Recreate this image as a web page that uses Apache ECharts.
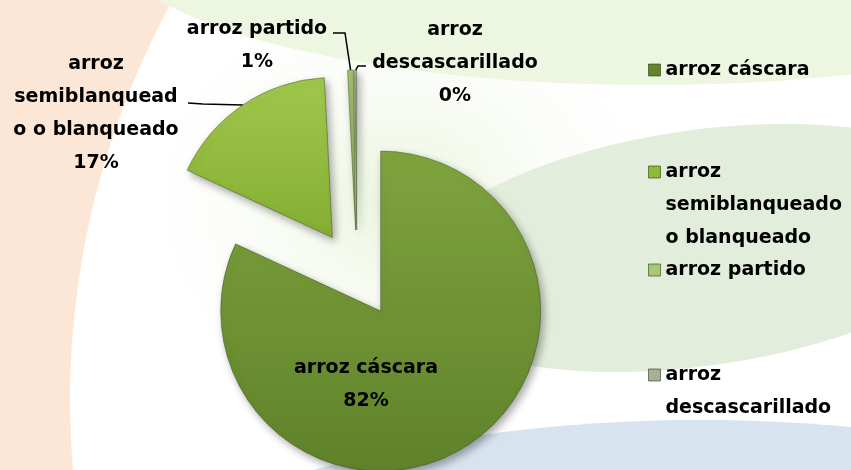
<!DOCTYPE html>
<html>
<head>
<meta charset="utf-8">
<script src="https://cdn.jsdelivr.net/npm/echarts@6/dist/echarts.min.js"></script>
<style>
  html, body { margin: 0; padding: 0; }
  .wrap { position: relative; width: 851px; height: 470px; overflow: hidden; }
  .wrap svg, #chart { position: absolute; left: 0; top: 0; }
  #chart { width: 851px; height: 470px; }
</style>
</head>
<body>
<div class="wrap">
  <!-- fondo decorativo de la diapositiva -->
  <svg width="851" height="470">
    <defs>
      <radialGradient id="soft">
        <stop offset="0" stop-color="#e8f3da" stop-opacity="0.95"/>
        <stop offset="1" stop-color="#ffffff" stop-opacity="0"/>
      </radialGradient>
    </defs>
    <rect width="851" height="470" fill="#fce7d7"/>
    <circle cx="900" cy="400" r="830" fill="#ffffff"/>
    <ellipse cx="400" cy="200" rx="280" ry="240" fill="url(#soft)"/>
    <ellipse cx="650" cy="-60" rx="540" ry="145" fill="#ecf6e0"/>
    <ellipse cx="700" cy="248" rx="300" ry="118" fill="#e3eddb" transform="rotate(-8 700 248)"/>
    <ellipse cx="700" cy="720" rx="700" ry="300" fill="#d7e3ee"/>
  </svg>
  <div id="chart"></div>
</div>
<script>
// datos
const categories = ['arroz cáscara', 'arroz semiblanqueado o blanqueado', 'arroz partido', 'arroz descascarillado']
const values = [81.9, 17.3, 0.6, 0.2]
// textos tal como aparecen partidos en el gráfico
const labelTexts = ['arroz cáscara', 'arroz\nsemiblanquead\no o blanqueado', 'arroz partido', 'arroz\ndescascarillado']
const legendTexts = ['arroz cáscara', 'arroz\nsemiblanqueado\no blanqueado', 'arroz partido', 'arroz\ndescascarillado']

const FONT = 'DejaVu Sans'
const LH = 33
const CENTER = [357, 274]
const RADIUS = 160
const EXPLODE = 44

// estilos de cada porción
const sliceColors = [
  ['#7fa43e', '#5f822a'],
  ['#a0c84c', '#84ae32'],
  ['#a4c46e', '#87a455'],
  ['#b2b8a0', '#8f977c']
]
const legendColors = ['#62842c', '#8fba38', '#a8c878', '#a9ae98']

// donde van las etiquetas (centro del bloque) y los quiebres de las líneas guía
const labelPos = [[366, 385], [96, 114], [257, 46], [455, 63]]
const leaderPts = [null, [[203, 104], [188, 103]], [[345, 33], [333, 33]], [[358, 66], [366, 66]]]
const legendFirstLine = [70, 172, 270, 375]

const chart = echarts.init(document.getElementById('chart'))

const textStyle = {
  color: '#000',
  fontFamily: FONT,
  fontWeight: 'bold',
  fontSize: 19,
  lineHeight: LH
}

// una leyenda por entrada para repetir el reparto vertical del original
const legends = categories.map((name, i) => {
  const n = legendTexts[i].split('\n').length
  return {
    data: [{ name: name, itemStyle: { color: legendColors[i], borderColor: 'rgba(40,60,20,0.6)', borderWidth: 1 } }],
    orient: 'vertical',
    left: 648,
    top: legendFirstLine[i] - (2 * n - 1) * LH / 2,
    padding: 0,
    itemWidth: 12,
    itemHeight: 12,
    icon: 'rect',
    selectedMode: false,
    // líneas vacías delante para que el icono quede a la altura de la primera línea
    formatter: () => '\n'.repeat(n - 1) + legendTexts[i],
    textStyle: textStyle
  }
})

const pieBase = {
  type: 'pie',
  center: CENTER,
  radius: RADIUS,
  startAngle: 90,
  clockwise: true,
  avoidLabelOverlap: false,
  percentPrecision: 0,
  emphasis: { disabled: true },
  animation: false
}

const option = {
  animation: false,
  legend: legends,
  series: [
    // porciones separadas
    Object.assign({}, pieBase, {
      selectedMode: 'multiple',
      selectedOffset: EXPLODE,
      label: { show: false },
      labelLine: { show: false },
      data: categories.map((name, i) => ({
        name: name,
        value: values[i],
        selected: true,
        itemStyle: {
          color: new echarts.graphic.LinearGradient(0, 0, 0, 1, [
            { offset: 0, color: sliceColors[i][0] },
            { offset: 1, color: sliceColors[i][1] }
          ]),
          borderColor: 'rgba(50,70,20,0.45)',
          borderWidth: 1,
          shadowBlur: 8,
          shadowOffsetX: 3,
          shadowOffsetY: 4,
          shadowColor: 'rgba(0,0,0,0.35)'
        }
      }))
    }),
    // capa invisible solo para las etiquetas y líneas guía
    Object.assign({}, pieBase, {
      silent: true,
      legendHoverLink: false,
      itemStyle: { color: 'rgba(0,0,0,0)' },
      label: Object.assign({
        show: true,
        position: 'outside',
        formatter: (p) => labelTexts[p.dataIndex] + '\n' + p.percent + '%'
      }, textStyle),
      labelLine: {
        show: true,
        length: 10,
        length2: 10,
        lineStyle: { color: '#000', width: 1.5 }
      },
      labelLayout: (params) => {
        const i = params.dataIndex
        const res = {
          x: labelPos[i][0],
          y: labelPos[i][1],
          align: 'center',
          verticalAlign: 'middle'
        }
        if (leaderPts[i] && params.labelLinePoints) {
          const p = params.labelLinePoints[0]
          const vx = p[0] - CENTER[0]
          const vy = p[1] - CENTER[1]
          const len = Math.sqrt(vx * vx + vy * vy) || 1
          const p0 = [p[0] + vx / len * EXPLODE, p[1] + vy / len * EXPLODE]
          res.labelLinePoints = [p0, leaderPts[i][0], leaderPts[i][1]]
        }
        return res
      },
      data: categories.map((name, i) => ({
        name: name,
        value: values[i],
        label: i === 0 ? { position: 'inside' } : undefined,
        labelLine: i === 0 ? { show: false } : undefined
      }))
    })
  ]
}

chart.setOption(option)
</script>
</body>
</html>
